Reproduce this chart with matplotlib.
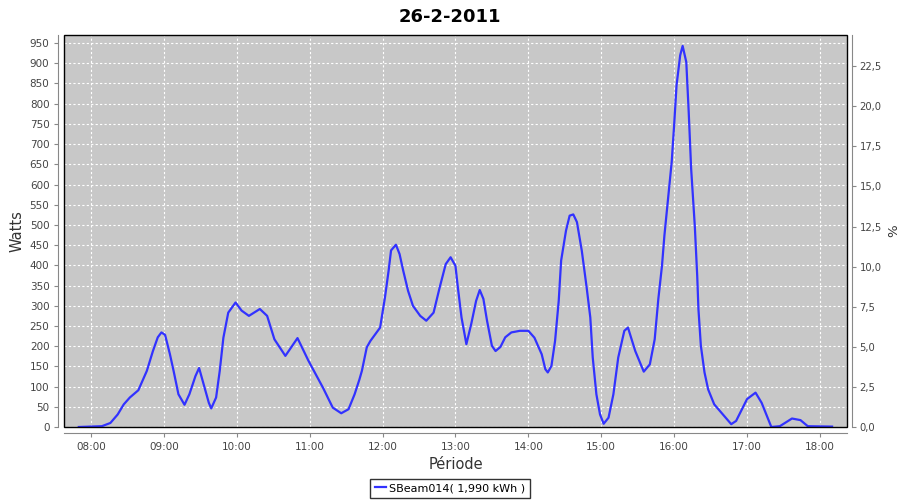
"""Daily power curve for SBeam014, 26-2-2011."""

import matplotlib
matplotlib.use("Agg")
import matplotlib.pyplot as plt
from matplotlib.patches import Rectangle
from matplotlib.ticker import FuncFormatter, MultipleLocator

TIMES = [
    "07:50", "08:00", "08:09", "08:16", "08:22", "08:27", "08:32", "08:39",
    "08:46", "08:51", "08:55", "08:58", "09:01", "09:05", "09:08", "09:12",
    "09:17", "09:21", "09:26", "09:29", "09:32", "09:37", "09:39", "09:43",
    "09:46", "09:49", "09:53", "09:59", "10:04", "10:10", "10:19", "10:25",
    "10:31", "10:40", "10:50", "10:59", "11:11", "11:19", "11:26", "11:32",
    "11:37", "11:41", "11:43", "11:47", "11:50", "11:58", "12:02", "12:05",
    "12:07", "12:11", "12:14", "12:17", "12:21", "12:25", "12:31", "12:36",
    "12:42", "12:47", "12:52", "12:56", "13:00", "13:02", "13:05", "13:09",
    "13:13", "13:17", "13:20", "13:23", "13:26", "13:30", "13:33", "13:37",
    "13:41", "13:46", "13:53", "14:00", "14:05", "14:11", "14:14", "14:16",
    "14:19", "14:22", "14:25", "14:27", "14:31", "14:34", "14:37", "14:40",
    "14:44", "14:48", "14:51", "14:53", "14:56", "14:59", "15:02", "15:06",
    "15:10", "15:14", "15:19", "15:22", "15:28", "15:35", "15:40", "15:44",
    "15:47", "15:50", "15:52", "15:55", "15:58", "16:00", "16:02", "16:05",
    "16:07", "16:10", "16:12", "16:14", "16:17", "16:19", "16:20", "16:22",
    "16:25", "16:28", "16:33", "16:39", "16:47", "16:51", "17:00", "17:07",
    "17:12", "17:20", "17:27", "17:37", "17:44", "17:50", "18:10",
]
WATTS = [
    0, 1, 2, 10, 31, 56, 73, 91,
    139, 188, 222, 234, 228, 180, 139, 81,
    55, 81, 126, 146, 114, 60, 46, 73,
    139, 221, 283, 308, 288, 275, 292, 275,
    217, 176, 220, 164, 97, 48, 34, 44,
    81, 118, 139, 197, 213, 246, 321, 387,
    437, 451, 428, 387, 337, 300, 275, 263,
    283, 345, 403, 420, 399, 345, 271, 205,
    255, 312, 339, 317, 263, 201, 188, 198,
    222, 234, 238, 238, 221, 180, 143, 135,
    151, 213, 312, 412, 486, 523, 526, 507,
    436, 345, 271, 172, 81, 31, 8, 23,
    81, 172, 238, 246, 188, 137, 155, 217,
    317, 399, 474, 565, 656, 747, 846, 920,
    943, 903, 779, 639, 498, 374, 292, 201,
    135, 93, 56, 35, 7, 15, 69, 85,
    60, 0, 2, 21, 17, 2, 1,
]
HOUR_TICKS = list(range(8, 19))
TITLE = "26-2-2011"
SERIES_LABEL = "SBeam014( 1,990 kWh )"


def _to_hours(s: str) -> float:
    h, m = s.split(":")
    return int(h) + int(m) / 60.0


hours = [_to_hours(t) for t in TIMES]

plt.rcParams["font.family"] = ["DejaVu Sans"]
TICK_COLOR = "#444444"
AXIS_COLOR = "#888888"

fig = plt.figure(figsize=(9, 5), dpi=100)
ax = fig.add_axes([0.0711, 0.146, 0.8699, 0.784])
ax.set_facecolor("#c8c8c8")

line, = ax.plot(hours, WATTS, color="#3232ff", lw=1.6, label=SERIES_LABEL,
                solid_joinstyle="round")

ax.set_xlim(7.63, 18.37)
ax.set_ylim(0, 970)
ax.set_xticks(HOUR_TICKS)
ax.xaxis.set_major_formatter(FuncFormatter(lambda v, _: f"{int(round(v)):02d}:00"))
ax.yaxis.set_major_locator(MultipleLocator(50))
ax.grid(True, color="white", ls=(0, (2, 2)), lw=0.8)
ax.set_axisbelow(True)

for side in ("top", "right"):
    ax.spines[side].set_visible(False)
for side in ("left", "bottom"):
    ax.spines[side].set_position(("outward", 4))
    ax.spines[side].set_color(AXIS_COLOR)
ax.add_patch(Rectangle((0, 0), 1, 1, transform=ax.transAxes, fill=False,
                       ec="black", lw=1.0, clip_on=False, zorder=5))
ax.tick_params(axis="both", colors=AXIS_COLOR, labelcolor=TICK_COLOR,
               labelsize=7.5, length=3)

ax.set_ylabel("Watts", fontsize=10.5, color="#333333", labelpad=4)
ax.set_xlabel("Période", fontsize=10.5, color="#333333", labelpad=4)

ax2 = ax.twinx()
ax2.set_ylim(0, 24.44)
ax2.yaxis.set_major_locator(MultipleLocator(2.5))
ax2.yaxis.set_major_formatter(FuncFormatter(lambda v, _: f"{v:.1f}".replace(".", ",")))
for side in ("top", "left", "bottom"):
    ax2.spines[side].set_visible(False)
ax2.spines["right"].set_position(("outward", 4))
ax2.spines["right"].set_color(AXIS_COLOR)
ax2.tick_params(axis="y", colors=AXIS_COLOR, labelcolor=TICK_COLOR,
                labelsize=7.2, length=3, pad=2)
ax2.set_ylabel("%", fontsize=9.5, color="#333333")
ax2.yaxis.set_label_coords(1.051, 0.5)

fig.suptitle(TITLE, fontsize=13, fontweight="bold", y=0.985)

leg = fig.legend(handles=[line], loc="lower center", bbox_to_anchor=(0.5, 0.0),
                 frameon=True, fancybox=False, fontsize=8, handlelength=1.0,
                 handletextpad=0.3, borderpad=0.4, borderaxespad=0.2)
leg.get_frame().set_edgecolor("black")
leg.get_frame().set_linewidth(1.0)

fig.savefig("out.png", dpi=100)
